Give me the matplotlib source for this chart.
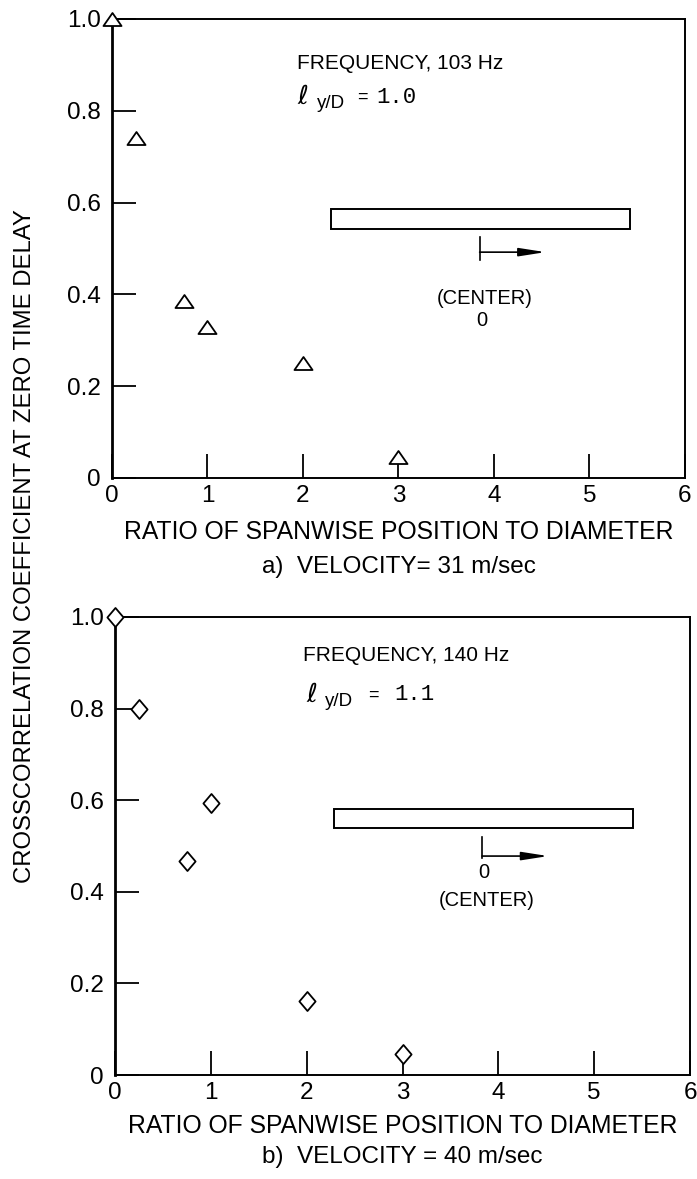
import numpy as np
import matplotlib
matplotlib.use('Agg')
import matplotlib.pyplot as plt
from matplotlib.path import Path
from matplotlib.patches import Rectangle

# spanwise position / diameter for each probe
spacing = [0.0, 0.25, 0.75, 1.0, 2.0, 3.0]
# crosscorrelation at zero delay
coef_31 = [1.0, 0.74, 0.385, 0.33, 0.25, 0.046]
coef_40 = [1.0, 0.80, 0.467, 0.594, 0.162, 0.045]

x_ticks = [0, 1, 2, 3, 4, 5, 6]
y_ticks = [0, 0.2, 0.4, 0.6, 0.8, 1.0]
y_tick_labels = ['0', '0.2', '0.4', '0.6', '0.8', '1.0']

freq_text = ['FREQUENCY, 103 Hz', 'FREQUENCY, 140 Hz']
ly_value = ['1.0', '1.1']
captions = ['a)  VELOCITY= 31 m/sec', 'b)  VELOCITY = 40 m/sec']

plt.rcParams['font.family'] = ['Liberation Sans', 'DejaVu Sans']

# wide flat triangle and tall diamond like the scan
tri = Path([(-1, -0.72), (1, -0.72), (0, 0.72), (-1, -0.72)],
           [Path.MOVETO, Path.LINETO, Path.LINETO, Path.CLOSEPOLY])
dia = Path([(0, 1), (0.85, 0), (0, -1), (-0.85, 0), (0, 1)],
           [Path.MOVETO, Path.LINETO, Path.LINETO, Path.LINETO, Path.CLOSEPOLY])


def setup_axes(ax):
    ax.set_xlim(0, 6)
    ax.set_ylim(0, 1)
    ax.set_xticks(x_ticks)
    ax.set_yticks(y_ticks)
    ax.set_yticklabels(y_tick_labels)
    ax.tick_params(direction='in', length=17, width=1.3, labelsize=17.5,
                   top=False, right=False)
    ax.tick_params(axis='x', pad=5)
    ax.tick_params(axis='y', pad=8)
    for s in ax.spines.values():
        s.set_linewidth(1.4)
    ax.spines['left'].set_linewidth(2.0)


def draw_notes(ax, k, pos):
    # pos holds spots (data units) for the labels and the little sketch
    fx, fy, lx, ly, dx, ex, vx, bx0, bx1, by0, by1, cx, cy0, cy1, ay, zy, ty = pos
    ax.text(fx, fy, freq_text[k], fontsize=15, va='center', ha='left')
    ax.text(lx, ly, '\u2113', fontsize=19, va='center', ha='left',
            family='DejaVu Sans')
    ax.text(dx, ly - 0.014, 'y/D', fontsize=13.5, va='center', ha='left')
    ax.text(ex, ly, '=', fontsize=13, va='center', ha='left')
    ax.text(vx, ly, ly_value[k], fontsize=16, va='center', ha='left',
            family='Liberation Mono')
    ax.add_patch(Rectangle((bx0, by1), bx1 - bx0, by0 - by1, facecolor='white',
                           edgecolor='black', linewidth=1.4))
    ax.plot([cx, cx], [cy0, cy1], color='black', lw=1.2)
    ax.annotate('', xy=(cx + 0.69, ay), xytext=(cx, ay),
                arrowprops=dict(arrowstyle='-|>,head_length=1.6,head_width=0.25',
                                color='black', lw=1.2, shrinkA=0, shrinkB=0))
    ax.text(cx + 0.02, zy, '0', fontsize=14.5, ha='center', va='center')
    ax.text(cx + 0.05, ty, '(CENTER)', fontsize=14.5, ha='center', va='center')


fig = plt.figure(figsize=(6.97, 11.79), dpi=100)
ax1 = fig.add_axes([0.1607, 0.5946, 0.822, 0.3893])
ax2 = fig.add_axes([0.165, 0.0882, 0.825, 0.3885])

for ax in (ax1, ax2):
    setup_axes(ax)

ax1.plot(spacing, coef_31, linestyle='none', marker=tri, markersize=13,
         markerfacecolor='white', markeredgecolor='black', markeredgewidth=1.3,
         clip_on=False, zorder=5)
ax2.plot(spacing, coef_40, linestyle='none', marker=dia, markersize=13.7,
         markerfacecolor='white', markeredgecolor='black', markeredgewidth=1.3,
         clip_on=False, zorder=5)

draw_notes(ax1, 0, [1.94, 0.904, 1.94, 0.83, 2.15, 2.57, 2.77,
                    2.29, 5.42, 0.586, 0.542, 3.85, 0.525, 0.475, 0.492,
                    0.344, 0.39])
draw_notes(ax2, 1, [1.96, 0.915, 2.0, 0.83, 2.19, 2.64, 2.92,
                    2.28, 5.41, 0.581, 0.539, 3.83, 0.52, 0.474, 0.478,
                    0.443, 0.382])

ax1.text(0.5, -0.1176, 'RATIO OF SPANWISE POSITION TO DIAMETER', fontsize=17.8,
         ha='center', va='center', transform=ax1.transAxes)
ax1.text(0.5, -0.194, captions[0], fontsize=17.5, ha='center', va='center',
         transform=ax1.transAxes)
ax2.text(0.5, -0.111, 'RATIO OF SPANWISE POSITION TO DIAMETER', fontsize=17.8,
         ha='center', va='center', transform=ax2.transAxes)
ax2.text(0.5, -0.179, captions[1], fontsize=17.5, ha='center', va='center',
         transform=ax2.transAxes)

fig.text(0.036, 0.537, 'CROSSCORRELATION COEFFICIENT AT ZERO TIME DELAY',
         rotation=90, fontsize=17.2, ha='center', va='center')

fig.savefig('out.png', dpi=100)
